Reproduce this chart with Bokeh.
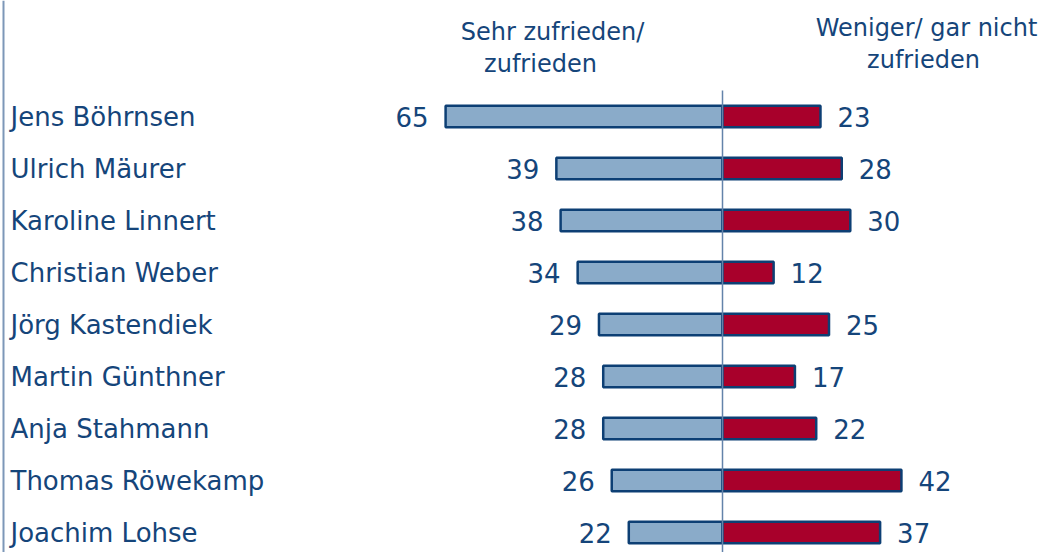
from bokeh.plotting import figure
from bokeh.models import Range1d, ColumnDataSource
from bokeh.core.properties import value
from bokeh.embed import file_html
from bokeh.resources import INLINE

names = ["Jens Böhrnsen", "Ulrich Mäurer", "Karoline Linnert", "Christian Weber",
         "Jörg Kastendiek", "Martin Günthner", "Anja Stahmann", "Thomas Röwekamp",
         "Joachim Lohse"]
satisfied = [65, 39, 38, 34, 29, 28, 28, 26, 22]
dissatisfied = [23, 28, 30, 12, 25, 17, 22, 42, 37]
header_left = ["Sehr zufrieden/", "zufrieden"]
header_right = ["Weniger/ gar nicht", "zufrieden"]

W, H = 1056, 552
PX = 4.26          # px per unit
ZERO = 722         # px of zero inside frame
ROW = 52.0
x0 = -ZERO / PX
x1 = (W - ZERO) / PX
ytop = -116 / ROW
ybot = 8 + (H - 532) / ROW

FONT = "DejaVu Sans"
TXT = "#15457a"
EDGE = "#0d3f74"

p = figure(width=W, height=H, output_backend="svg", toolbar_location=None,
           x_range=Range1d(x0, x1), y_range=Range1d(ybot, ytop), min_border=0)
p.xaxis.visible = False
p.yaxis.visible = False
p.xgrid.visible = False
p.ygrid.visible = False
p.outline_line_color = None
p.background_fill_color = "white"

ys = list(range(len(names)))
src = ColumnDataSource(dict(
    y=ys, name=names, sat=satisfied, dis=dissatisfied,
    negsat=[-v for v in satisfied],
    sat_lbl=[str(v) for v in satisfied], dis_lbl=[str(v) for v in dissatisfied],
    sat_x=[-v - 17 / PX for v in satisfied], dis_x=[v + 17 / PX for v in dissatisfied],
))

# left border line
p.segment(x0=[x0 + 3 / PX], x1=[x0 + 3 / PX], y0=[ytop], y1=[ybot],
          line_color="#7d97b8", line_width=2)

p.hbar(y="y", left="negsat", right=0, height=0.41, source=src,
       fill_color="#8aabc9", line_color=EDGE, line_width=2.5)
p.hbar(y="y", left=0, right="dis", height=0.41, source=src,
       fill_color="#a8002b", line_color=EDGE, line_width=2.5)

# center line
p.segment(x0=[0], x1=[0], y0=[-0.5], y1=[ybot], line_color="#6383aa", line_width=1.5)

p.text(x=x0 + 10 / PX, y="y", text="name", source=src, text_font=value(FONT),
       text_font_size="26px", text_color=TXT, text_baseline="middle", text_align="left")
p.text(x="sat_x", y="y", text="sat_lbl", source=src, text_font=value(FONT),
       text_font_size="26px", text_color=TXT, text_baseline="middle", text_align="right")
p.text(x="dis_x", y="y", text="dis_lbl", source=src, text_font=value(FONT),
       text_font_size="26px", text_color=TXT, text_baseline="middle", text_align="left")

# headers
lx = [(552 - ZERO) / PX, (540 - ZERO) / PX]
ly = [(31 - 116) / ROW, (63 - 116) / ROW]
rx = [(926 - ZERO) / PX, (923 - ZERO) / PX]
ry = [(27 - 116) / ROW, (59 - 116) / ROW]
p.text(x=lx, y=ly, text=header_left, text_font=value(FONT), text_font_size="24px",
       text_color=TXT, text_baseline="middle", text_align="center")
p.text(x=rx, y=ry, text=header_right, text_font=value(FONT), text_font_size="24px",
       text_color=TXT, text_baseline="middle", text_align="center")

open("out.html", "w").write(file_html(p, INLINE))
